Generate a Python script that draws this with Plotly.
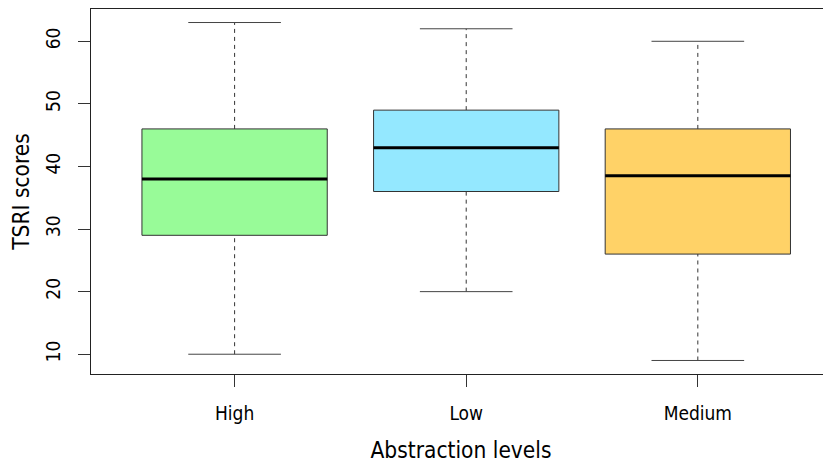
import plotly.graph_objects as go

categories = ["High", "Low", "Medium"]
mins = [10, 20, 9]
q1s = [29, 36, 26]
medians = [38, 43, 38.5]
q3s = [46, 49, 46]
maxs = [63, 62, 60]
colors = ["#98FB98", "#94E8FF", "#FFD267"]

FONT = "DejaVu Sans Condensed, DejaVu Sans"
fig = go.Figure()
hw = 0.4   # box half width
cw = 0.2   # cap half width
for i, cat in enumerate(categories):
    c = i + 1
    # whiskers (dashed)
    fig.add_trace(go.Scatter(
        x=[c, c, None, c, c], y=[q3s[i], maxs[i], None, mins[i], q1s[i]],
        mode="lines", line=dict(color="#333333", width=1, dash="4px,4px"),
        showlegend=False, hoverinfo="skip"))
    # caps
    fig.add_trace(go.Scatter(
        x=[c - cw, c + cw, None, c - cw, c + cw],
        y=[maxs[i], maxs[i], None, mins[i], mins[i]],
        mode="lines", line=dict(color="#444444", width=1),
        showlegend=False, hoverinfo="skip"))
    # box
    fig.add_trace(go.Scatter(
        x=[c - hw, c + hw, c + hw, c - hw, c - hw],
        y=[q1s[i], q1s[i], q3s[i], q3s[i], q1s[i]],
        mode="lines", fill="toself", fillcolor=colors[i],
        line=dict(color="#333333", width=1),
        showlegend=False, name=cat))
    # median
    fig.add_trace(go.Scatter(
        x=[c - hw, c + hw], y=[medians[i], medians[i]],
        mode="lines", line=dict(color="black", width=3),
        showlegend=False, hoverinfo="skip"))

fig.update_layout(
    width=823, height=457,
    margin=dict(l=83, r=0, t=1, b=91),
    paper_bgcolor="white", plot_bgcolor="white",
    font=dict(family=FONT, color="black"),
    xaxis=dict(
        range=[0.38, 3.575], tickmode="array", tickvals=[1, 2, 3],
        ticktext=categories, showgrid=False, zeroline=False,
        showline=True, mirror=True, linecolor="#222222", linewidth=1,
        ticks="outside", ticklen=12, tickcolor="#333333",
        tickfont=dict(size=19, family=FONT), ticklabelstandoff=10,
        title=dict(text="Abstraction levels", font=dict(size=22.5, family=FONT), standoff=19),
    ),
    yaxis=dict(
        range=[6.84, 65.16], tickmode="array", tickvals=[10, 20, 30, 40, 50, 60],
        showgrid=False, zeroline=False, showline=True, linecolor="#222222", linewidth=1,
        ticks="outside", ticklen=12, tickcolor="#333333", tickangle=-90,
        tickfont=dict(size=19, family=FONT), ticklabelstandoff=10,
        title=dict(text="TSRI scores", font=dict(size=22.5, family=FONT), standoff=10),
    ),
)

fig.write_html("out.html")
